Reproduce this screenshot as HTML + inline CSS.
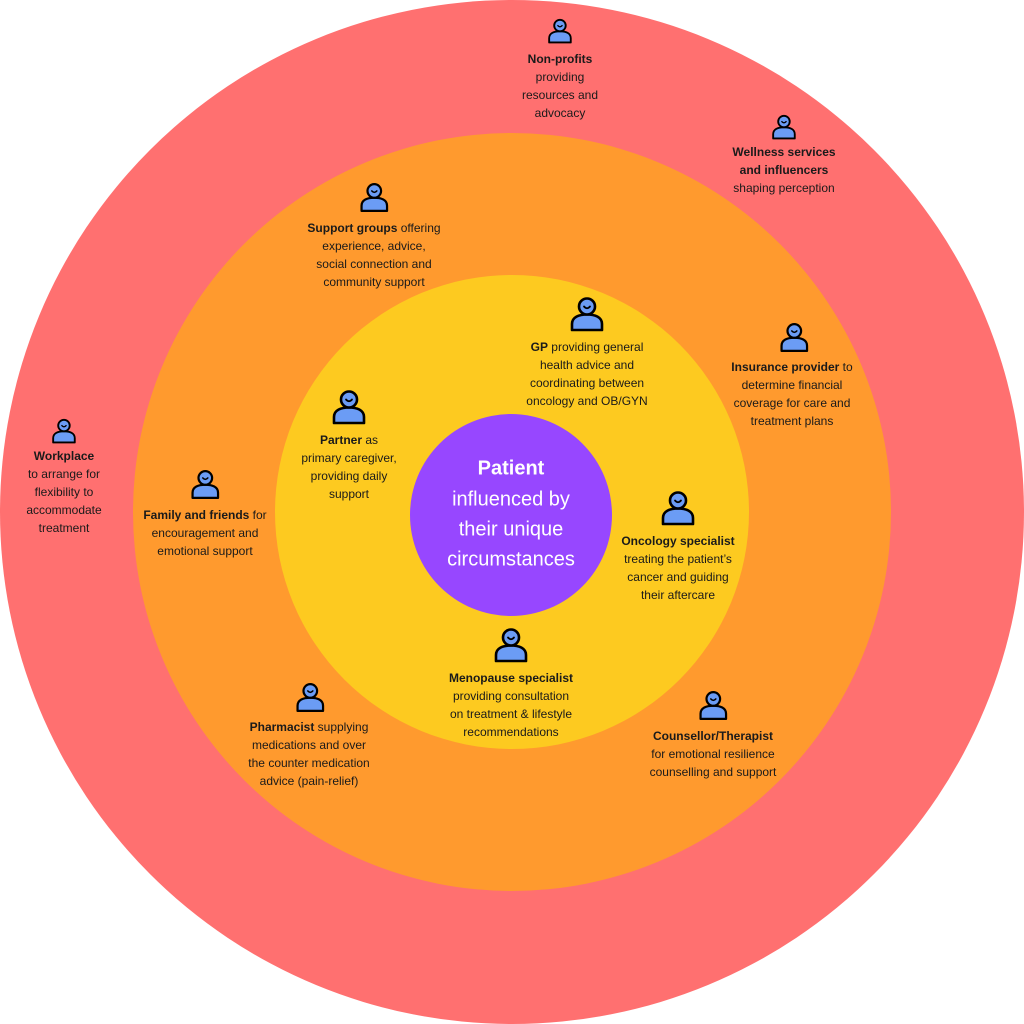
<!DOCTYPE html>
<html><head><meta charset="utf-8"><style>
html,body{margin:0;padding:0;background:#fff}
svg{display:block}
text{font-family:"Liberation Sans",sans-serif;font-size:12px;fill:#1a1a1a;text-anchor:middle;dominant-baseline:middle}
.b{font-weight:bold}
.p{fill:#fff;font-size:20px}
</style></head><body>
<svg width="1024" height="1024" viewBox="0 0 1024 1024" xmlns="http://www.w3.org/2000/svg">
<defs>
<g id="ic">
<path d="M3 34 V28 C3 21 10 18.5 18 18.5 C26 18.5 33 21 33 28 V34 Z" fill="#6b9cf5" stroke="#000" stroke-width="2.6" stroke-linejoin="round"/>
<circle cx="18" cy="10.5" r="8" fill="#6b9cf5" stroke="#000" stroke-width="2.6"/>
<path d="M15 10.5 Q18 14 21 10.5" fill="none" stroke="#000" stroke-width="1.8" stroke-linecap="round"/>
</g>
</defs>
<circle cx="512" cy="512" r="512" fill="#ff7070"/>
<circle cx="512" cy="512" r="379" fill="#ff9a2e"/>
<circle cx="512" cy="512" r="237" fill="#fdca20"/>
<circle cx="511" cy="515" r="101" fill="#9747ff"/>

<use href="#ic" transform="translate(547,18) scale(0.72)"/>
<use href="#ic" transform="translate(771,114) scale(0.72)"/>
<use href="#ic" transform="translate(51,418) scale(0.72)"/>
<use href="#ic" transform="translate(359,182) scale(0.85)"/>
<use href="#ic" transform="translate(779,322) scale(0.85)"/>
<use href="#ic" transform="translate(190,469) scale(0.85)"/>
<use href="#ic" transform="translate(295,682) scale(0.85)"/>
<use href="#ic" transform="translate(698,690) scale(0.85)"/>
<use href="#ic" transform="translate(569,296)"/>
<use href="#ic" transform="translate(331,389)"/>
<use href="#ic" transform="translate(660,490)"/>
<use href="#ic" transform="translate(493,627)"/>

<g transform="translate(0,2)">
<text x="560" y="58" class="b">Non-profits</text>
<text x="560" y="76">providing</text>
<text x="560" y="94">resources and</text>
<text x="560" y="112">advocacy</text>

<text x="784" y="151" class="b">Wellness services</text>
<text x="784" y="169" class="b">and influencers</text>
<text x="784" y="187">shaping perception</text>

<text x="374" y="227"><tspan class="b">Support groups</tspan> offering</text>
<text x="374" y="245">experience, advice,</text>
<text x="374" y="263">social connection and</text>
<text x="374" y="281">community support</text>

<text x="587" y="346"><tspan class="b">GP</tspan> providing general</text>
<text x="587" y="364">health advice and</text>
<text x="587" y="382">coordinating between</text>
<text x="587" y="400">oncology and OB/GYN</text>

<text x="792" y="366"><tspan class="b">Insurance provider</tspan> to</text>
<text x="792" y="384">determine financial</text>
<text x="792" y="402">coverage for care and</text>
<text x="792" y="420">treatment plans</text>

<text x="64" y="455" class="b">Workplace</text>
<text x="64" y="473">to arrange for</text>
<text x="64" y="491">flexibility to</text>
<text x="64" y="509">accommodate</text>
<text x="64" y="527">treatment</text>

<text x="349" y="439"><tspan class="b">Partner</tspan> as</text>
<text x="349" y="457">primary caregiver,</text>
<text x="349" y="475">providing daily</text>
<text x="349" y="493">support</text>

<text x="205" y="514"><tspan class="b">Family and friends</tspan> for</text>
<text x="205" y="532">encouragement and</text>
<text x="205" y="550">emotional support</text>

<text x="678" y="540" class="b">Oncology specialist</text>
<text x="678" y="558">treating the patient’s</text>
<text x="678" y="576">cancer and guiding</text>
<text x="678" y="594">their aftercare</text>

<text x="511" y="677" class="b">Menopause specialist</text>
<text x="511" y="695">providing consultation</text>
<text x="511" y="713">on treatment &amp; lifestyle</text>
<text x="511" y="731">recommendations</text>

<text x="309" y="726"><tspan class="b">Pharmacist</tspan> supplying</text>
<text x="309" y="744">medications and over</text>
<text x="309" y="762">the counter medication</text>
<text x="309" y="780">advice (pain-relief)</text>

<text x="713" y="735" class="b">Counsellor/Therapist</text>
<text x="713" y="753">for emotional resilience</text>
<text x="713" y="771">counselling and support</text>

<text x="511" y="467" class="p b">Patient</text>
<text x="511" y="498" class="p">influenced by</text>
<text x="511" y="528" class="p">their unique</text>
<text x="511" y="558" class="p">circumstances</text>
</g>
</svg>
</body></html>
